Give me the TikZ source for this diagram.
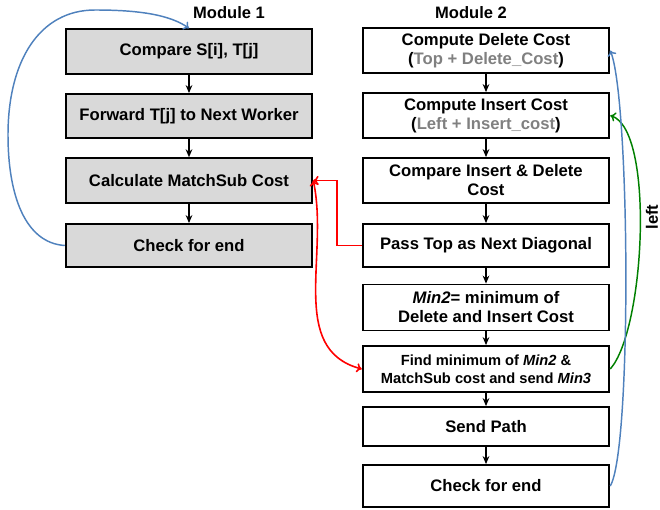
\documentclass[tikz,border=0pt]{standalone}
\usepackage{fontspec}
\setmainfont{Liberation Sans}
\usetikzlibrary{arrows.meta}
\definecolor{boxgray}{HTML}{D9D9D9}
\definecolor{txtgray}{HTML}{808080}
\definecolor{lblue}{HTML}{4F81BD}
\definecolor{lgreen}{HTML}{008000}
\begin{document}
\begin{tikzpicture}[x=0.75pt,y=-0.75pt,
  box/.style={draw=black, line width=1.35pt, minimum width=185pt, align=center,
    inner sep=1pt, font=\fontsize{12.5}{14.3}\selectfont\bfseries},
  gbox/.style={box, fill=boxgray},
  flow/.style={-{Stealth[length=6pt,width=5pt]}, line width=1.1pt},
  lbl/.style={font=\fontsize{12.4}{13}\selectfont\bfseries}]
\useasboundingbox (0,0) rectangle (660,510);
% Module 1
\node[lbl] (m1) at (229,13) {Module 1};
\node[gbox, minimum height=33.5pt] (l1) at (189,51.5) {Compare S[i], T[j]};
\node[gbox, minimum height=33pt] (l2) at (189,116) {Forward T[j] to Next Worker};
\node[gbox, minimum height=33.5pt] (l3) at (189,180.5) {Calculate MatchSub Cost};
\node[gbox, minimum height=32.25pt] (l4) at (189,245.5) {Check for end};
% Module 2
\node[lbl] (m2) at (471,13) {Module 2};
\node[box, minimum height=33.75pt, text depth=2pt] (r1) at (486,50.5) {Compute Delete Cost\\(\textcolor{txtgray}{Top + Delete\_Cost})};
\node[box, minimum height=33.75pt, text depth=2pt] (r2) at (486,115.5) {Compute Insert Cost\\(\textcolor{txtgray}{Left + Insert\_cost})};
\node[box, minimum height=33.75pt] (r3) at (486,180.5) {Compare Insert \& Delete\\Cost};
\node[box, minimum height=32.25pt] (r4) at (486,245.5) {Pass Top as Next Diagonal};
\node[box, minimum height=34.5pt] (r5) at (486,307.5) {\textit{Min2}= minimum of\\Delete and Insert Cost};
\node[box, minimum height=34.5pt, font=\fontsize{11}{13.4}\selectfont\bfseries] (r6) at (486,369) {Find minimum of \textit{Min2} \&\\MatchSub cost and send \textit{Min3}};
\node[box, minimum height=29.25pt] (r7) at (486,426.5) {Send Path};
\node[box, minimum height=31.5pt] (r8) at (486,486) {Check for end};
\node[lbl, rotate=90] (lf) at (652,217) {left};
% vertical flow arrows
\foreach \a/\b in {l1/l2,l2/l3,l3/l4,r1/r2,r2/r3,r3/r4,r4/r5,r5/r6,r6/r7,r7/r8}
  \draw[flow] (\a) -- (\b);
% red connectors
\draw[red, line width=1.2pt, -{To[length=4pt,width=7pt]}] (r4.west) -- ++(-25,0) |- (l3.east);
\draw[red, line width=1.2pt, {To[length=4pt,width=7pt]}-{To[length=4pt,width=7pt]}] (l3.east) to[out=-78, in=165] (r6.west);
% green
\draw[lgreen, line width=1.1pt, -{To[length=4pt,width=7pt]}] (r6.east) .. controls (645,330) and (655,130) .. (r2.east);
% blue right
\draw[lblue, line width=1.1pt, -{To[length=4pt,width=7pt]}] (r8.east) .. controls (632,450) and (630,100) .. (r1.east);
% blue left
\draw[lblue, line width=1.1pt, -{To[length=4pt,width=7pt]}] (l4.west) .. controls (25,243) and (8,195) .. (8,135)
  .. controls (8,60) and (40,10) .. (95,10) .. controls (140,10) and (170,15) .. (l1.north);
\end{tikzpicture}
\end{document}
